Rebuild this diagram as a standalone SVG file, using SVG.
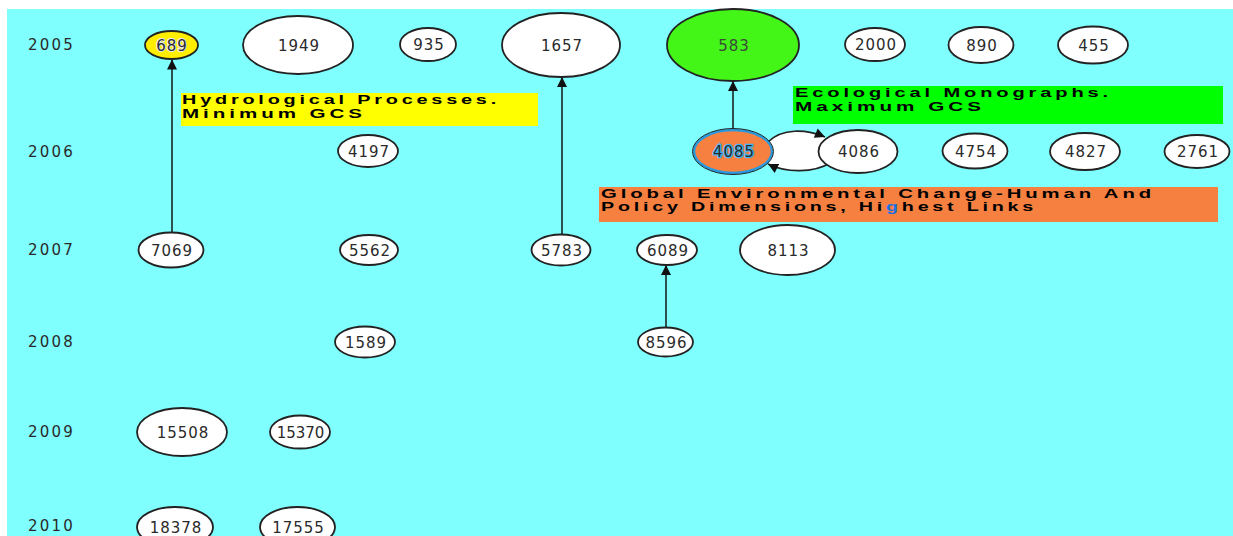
<svg xmlns="http://www.w3.org/2000/svg" width="1233" height="536" viewBox="0 0 1233 536">
<style>
.node ellipse{fill:#ffffff;stroke:#222;stroke-width:1.8}
.node text{font-family:"DejaVu Sans",sans-serif;font-size:15px;fill:#2a2a2a;text-anchor:middle;letter-spacing:1px}
.year{font-family:"DejaVu Sans",sans-serif;font-size:15px;fill:#2a2a2a;letter-spacing:2.2px}
.lbl{font-family:"Liberation Sans",Arial,sans-serif;font-size:13px;font-weight:bold;fill:#000;letter-spacing:2.5px}
.edge{stroke:#2d5050;stroke-width:2;fill:none}
</style>
<defs>
<marker id="ah" viewBox="0 0 10 10" refX="10" refY="5" markerWidth="11" markerHeight="10" markerUnits="userSpaceOnUse" orient="auto">
<path d="M0,0 L10,5 L0,10 z" fill="#111"/>
</marker>
</defs>
<rect x="0" y="0" width="1233" height="536" fill="#ffffff"/>
<rect x="7" y="9" width="1226" height="527" fill="#80ffff"/>

<g id="years">
<text class="year" x="28" y="50">2005</text>
<text class="year" x="28" y="156.5">2006</text>
<text class="year" x="28" y="254.5">2007</text>
<text class="year" x="28" y="347">2008</text>
<text class="year" x="28" y="436.5">2009</text>
<text class="year" x="28" y="531">2010</text>
</g>

<g id="connectors">
<line class="edge" x1="172" y1="232.5" x2="172" y2="59.5" marker-end="url(#ah)"/>
<line class="edge" x1="562" y1="234.5" x2="562" y2="77" marker-end="url(#ah)"/>
<line class="edge" x1="733" y1="130" x2="733" y2="81" marker-end="url(#ah)"/>
<line class="edge" x1="666" y1="327.5" x2="666" y2="265" marker-end="url(#ah)"/>
<path d="M768,142 C782,128 806,129 825,137 L830,163 C814,173 786,173 768,163 Z" fill="#ffffff" stroke="none"/>
<path class="edge" style="stroke:#222;stroke-width:1.6" d="M768,142 C782,128 806,129 825,137" marker-end="url(#ah)"/>
<path class="edge" style="stroke:#222;stroke-width:1.6" d="M830,163 C814,173 786,173 768,164" marker-end="url(#ah)"/>
</g>

<g id="n689" class="node"><ellipse cx="171.5" cy="45" rx="26.5" ry="14" style="fill:#ffee00"/><text x="172" y="50.5" style="stroke:#e8e8f0;stroke-width:2;paint-order:stroke">689</text></g>
<g id="n1949" class="node"><ellipse cx="298" cy="45" rx="55" ry="29"/><text x="299" y="50.5">1949</text></g>
<g id="n935" class="node"><ellipse cx="428" cy="44.5" rx="28" ry="16.5"/><text x="429" y="50">935</text></g>
<g id="n1657" class="node"><ellipse cx="561" cy="45" rx="59" ry="32"/><text x="562" y="50.5">1657</text></g>
<g id="n583" class="node"><ellipse cx="733" cy="45" rx="66" ry="36" style="fill:#44f518"/><text x="734" y="50.5" style="fill:#3a4a3a">583</text></g>
<g id="n2000" class="node"><ellipse cx="875" cy="44.5" rx="30" ry="16.5"/><text x="876" y="50">2000</text></g>
<g id="n890" class="node"><ellipse cx="981" cy="45" rx="32.5" ry="18"/><text x="982" y="50.5">890</text></g>
<g id="n455" class="node"><ellipse cx="1093" cy="45" rx="35" ry="18.5"/><text x="1094" y="50.5">455</text></g>

<g id="n4197" class="node"><ellipse cx="368" cy="151" rx="30" ry="16"/><text x="369" y="156.5">4197</text></g>
<g id="n4085" class="node"><ellipse cx="733" cy="151.5" rx="39" ry="21.5" style="fill:#f58040;stroke:#2a9ae0;stroke-width:2.5"/><ellipse cx="733" cy="151.5" rx="40.5" ry="23" style="fill:none;stroke:#222;stroke-width:1"/><text x="734" y="157" style="stroke:#40b4f4;stroke-width:2.5;paint-order:stroke">4085</text></g>
<g id="n4086" class="node"><ellipse cx="858" cy="151.5" rx="39.5" ry="21.5"/><text x="859" y="157">4086</text></g>
<g id="n4754" class="node"><ellipse cx="975" cy="151" rx="32.5" ry="17.5"/><text x="976" y="156.5">4754</text></g>
<g id="n4827" class="node"><ellipse cx="1085" cy="151.5" rx="35" ry="18.5"/><text x="1086" y="157">4827</text></g>
<g id="n2761" class="node"><ellipse cx="1197" cy="151.5" rx="32.5" ry="16.5"/><text x="1198" y="157">2761</text></g>

<g id="n7069" class="node"><ellipse cx="171" cy="250" rx="32.5" ry="17.5"/><text x="172" y="255.5">7069</text></g>
<g id="n5562" class="node"><ellipse cx="369" cy="250" rx="29" ry="15"/><text x="370" y="255.5">5562</text></g>
<g id="n5783" class="node"><ellipse cx="561" cy="250" rx="29.5" ry="15.5"/><text x="562" y="255.5">5783</text></g>
<g id="n6089" class="node"><ellipse cx="667" cy="250" rx="30" ry="15"/><text x="668" y="255.5">6089</text></g>
<g id="n8113" class="node"><ellipse cx="787.5" cy="250" rx="47.5" ry="25"/><text x="788.5" y="255.5">8113</text></g>

<g id="n1589" class="node"><ellipse cx="365" cy="342" rx="30" ry="15.5"/><text x="366" y="347.5">1589</text></g>
<g id="n8596" class="node"><ellipse cx="665.5" cy="342" rx="27.5" ry="14.5"/><text x="666.5" y="347.5">8596</text></g>

<g id="n15508" class="node"><ellipse cx="182" cy="432" rx="45" ry="24"/><text x="183" y="437.5">15508</text></g>
<g id="n15370" class="node"><ellipse cx="300" cy="432" rx="30" ry="16.5"/><text x="300.5" y="437.5" style="letter-spacing:0px">15370</text></g>

<g id="n18378" class="node"><ellipse cx="175" cy="527" rx="38" ry="20"/><text x="176" y="532.5">18378</text></g>
<g id="n17555" class="node"><ellipse cx="297.5" cy="527" rx="37.5" ry="20"/><text x="298.5" y="532.5">17555</text></g>

<g id="label-hydro">
<rect x="181" y="93" width="357" height="33" fill="#ffff00"/>
<text class="lbl" x="182" y="104" textLength="318" lengthAdjust="spacingAndGlyphs">Hydrological Processes.</text>
<text class="lbl" x="182" y="117.8" textLength="184" lengthAdjust="spacingAndGlyphs">Minimum GCS</text>
</g>
<g id="label-eco">
<rect x="793" y="86" width="430" height="38" fill="#00ff00"/>
<text class="lbl" x="795" y="97.3" textLength="317" lengthAdjust="spacingAndGlyphs">Ecological Monographs.</text>
<text class="lbl" x="795" y="111.4" textLength="190" lengthAdjust="spacingAndGlyphs">Maximum GCS</text>
</g>
<g id="label-gec">
<rect x="599" y="187" width="619" height="35" fill="#f58040"/>
<text class="lbl" x="601" y="197.7" textLength="554" lengthAdjust="spacingAndGlyphs">Global Environmental Change-Human And</text>
<text class="lbl" x="601" y="211.4" textLength="436" lengthAdjust="spacingAndGlyphs">Policy Dimensions, Hi<tspan fill="#1a70e0">g</tspan>hest Links</text>
</g>
</svg>
